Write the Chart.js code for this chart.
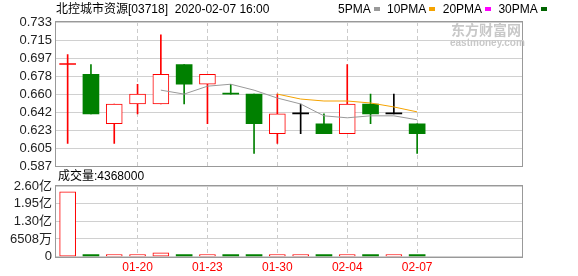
<!DOCTYPE html>
<html>
<head>
<meta charset="utf-8">
<script src="https://cdn.jsdelivr.net/npm/chart.js@4/dist/chart.umd.min.js"></script>
<style>
  body { margin: 0; background: #fff; }
  #wrap { position: relative; width: 578px; height: 276px; overflow: hidden;
          font-family: "Liberation Sans", "Noto Sans CJK SC", sans-serif; font-size: 12px; color: #000; }
  #wrap div.t { position: absolute; white-space: pre; line-height: 14px; }
  .sq { display: inline-block; width: 6px; height: 4px; margin: 0 4px 2px 3px; vertical-align: middle; }
  #priceBox { position: absolute; left: 0; top: 0; width: 578px; height: 178px; }
  #volBox { position: absolute; left: 0; top: 170px; width: 578px; height: 109px; }
</style>
</head>
<body>
<div id="wrap">
  <div id="priceBox"><canvas id="price"></canvas></div>
  <div id="volBox"><canvas id="vol"></canvas></div>
  <div class="t" style="left:56px;top:2px;">北控城市资源[03718]  2020-02-07 16:00</div>
  <div class="t" style="left:338px;top:2px;">5PMA<span class="sq" style="background:#999"></span> 10PMA<span class="sq" style="background:#f5a300"></span> 20PMA<span class="sq" style="background:#ff00ff"></span> 30PMA<span class="sq" style="background:#006400"></span></div>
  <div class="t" style="left:451px;top:23px;color:#c8c8c8;font-weight:bold;font-size:14px;">东方财富网</div>
  <div class="t" style="left:450px;top:36px;color:#c8c8c8;font-weight:bold;font-size:10px;">eastmoney.com</div>
  <div class="t" style="left:58px;top:169px;">成交量:4368000</div>
</div>
<script>
// 16 trading days, 4 empty slots at the right
var dates = ["01-15", "01-16", "01-17", "01-20", "01-21", "01-22", "01-23", "01-24",
             "01-29", "01-30", "01-31", "02-03", "02-04", "02-05", "02-06", "02-07",
             "", "", "", ""];
var openP  = [0.69, 0.68, 0.63, 0.65, 0.65, 0.69, 0.67, 0.66, 0.66, 0.62, 0.64, 0.63, 0.62, 0.65, 0.64, 0.63];
var closeP = [0.69, 0.64, 0.65, 0.66, 0.68, 0.67, 0.68, 0.66, 0.63, 0.64, 0.64, 0.62, 0.65, 0.64, 0.64, 0.62];
var highP  = [0.70, 0.69, 0.65, 0.67, 0.72, 0.69, 0.68, 0.67, 0.66, 0.66, 0.65, 0.64, 0.69, 0.66, 0.66, 0.63];
var lowP   = [0.61, 0.64, 0.61, 0.64, 0.65, 0.65, 0.63, 0.66, 0.60, 0.61, 0.62, 0.62, 0.62, 0.63, 0.64, 0.60];
// up / down / flat, as coloured in the picture
var candleKind = ["up", "down", "up", "up", "up", "down", "up", "down",
                  "down", "up", "flat", "down", "up", "down", "flat", "down"];
var ma5  = [null, null, null, null, 0.664, 0.660, 0.668, 0.670, 0.664, 0.656, 0.650, 0.638, 0.636, 0.638, 0.638, 0.634];
var ma10 = [null, null, null, null, null, null, null, null, null, 0.660, 0.655, 0.653, 0.653, 0.651, 0.647, 0.642];
var volume = [239000000, 3200000, 3500000, 3000000, 14000000, 2500000, 3000000, 2000000,
              2500000, 3500000, 3000000, 2800000, 7000000, 3000000, 3200000, 4368000];
var volUp = [true, false, true, true, true, false, true, false,
             false, true, true, false, true, false, true, false];

var priceTicks = [0.587, 0.60525, 0.6235, 0.64175, 0.66, 0.67825, 0.6965, 0.71475, 0.733];
var priceTickLabels = ["0.587", "0.605", "0.623", "0.642", "0.660", "0.678", "0.697", "0.715", "0.733"];
var volTicks = [0, 65080000, 130160000, 195240000, 260320000];
var volTickLabels = ["0", "6508万", "1.30亿", "1.95亿", "2.60亿"];
var labelIdx = [3, 6, 9, 12, 15];

var RED = "#ff0000", GREEN = "#008000", BLACK = "#000000";
function kindColor(k) { return k == "up" ? RED : (k == "down" ? GREEN : BLACK); }

Chart.defaults.font.family = '"Liberation Sans", "Noto Sans CJK SC", sans-serif';
Chart.defaults.font.size = 12;
Chart.defaults.animation = false;

// draws the grey frame round the plot
var frame = {
  id: "frame",
  afterDraw: function (chart) {
    var a = chart.chartArea, c = chart.ctx;
    c.save();
    c.strokeStyle = "#999";
    c.lineWidth = 1;
    c.strokeRect(Math.round(a.left) - 0.5, Math.round(a.top) - 0.5,
                 Math.round(a.right - a.left) + 1, Math.round(a.bottom - a.top) + 1);
    c.restore();
  }
};

function xGrid(ctx) {
  return labelIdx.indexOf(ctx.index) >= 0 ? "#cccccc" : "rgba(0,0,0,0)";
}

var bodies = [], wicks = [], bodyFill = [], bodyBorder = [], bodyBW = [], wickColor = [];
for (var i = 0; i < openP.length; i++) {
  bodies.push([openP[i], closeP[i]]);
  wicks.push([lowP[i], highP[i]]);
  var col = kindColor(candleKind[i]);
  wickColor.push(col);
  bodyBorder.push(col);
  if (candleKind[i] == "up" && openP[i] != closeP[i]) {
    bodyFill.push("#ffffff");
    bodyBW.push(1);
  } else {
    bodyFill.push(col);
    bodyBW.push(0);
  }
}

new Chart(document.getElementById("price"), {
  type: "bar",
  data: {
    labels: dates,
    datasets: [
      { type: "line", label: "5PMA", data: ma5, borderColor: "#999999", borderWidth: 1,
        pointRadius: 0, tension: 0, order: -1 },
      { type: "line", label: "10PMA", data: ma10, borderColor: "#f5a300", borderWidth: 1,
        pointRadius: 0, tension: 0, order: -1 },
      { label: "body", data: bodies, backgroundColor: bodyFill, borderColor: bodyBorder,
        borderWidth: bodyBW, borderSkipped: false, barThickness: 16, minBarLength: 1,
        grouped: false, order: 0 },
      { label: "wick", data: wicks, backgroundColor: wickColor, borderWidth: 0,
        barThickness: 1, grouped: false, order: 1 }
    ]
  },
  options: {
    responsive: true,
    maintainAspectRatio: false,
    layout: { padding: { left: 0, right: 56, top: 22, bottom: 5 } },
    plugins: { legend: { display: false }, tooltip: { enabled: false } },
    scales: {
      x: {
        offset: true,
        ticks: { display: false, autoSkip: false },
        grid: { offset: false, drawTicks: false, color: xGrid },
        border: { display: false, dash: [4, 3] }
      },
      y: {
        min: 0.587, max: 0.733,
        afterFit: function (s) { s.width = 56; },
        afterBuildTicks: function (s) { s.ticks = priceTicks.map(function (v) { return { value: v }; }); },
        ticks: { color: "#222", padding: 4, font: { size: 13 }, autoSkip: false,
                 callback: function (v, i) { return priceTickLabels[i]; } },
        grid: { color: "#d0d0d0", drawTicks: false },
        border: { display: false }
      }
    }
  },
  plugins: [frame]
});

var volFill = [], volBorder = [], volBW = [];
for (var j = 0; j < volume.length; j++) {
  volFill.push(volUp[j] ? "#ffffff" : GREEN);
  volBorder.push(volUp[j] ? RED : GREEN);
  volBW.push(volUp[j] ? 1 : 0);
}

new Chart(document.getElementById("vol"), {
  type: "bar",
  data: {
    labels: dates,
    datasets: [
      { label: "成交量", data: volume, backgroundColor: volFill, borderColor: volBorder,
        borderWidth: volBW, borderSkipped: false, barThickness: 16, minBarLength: 2 }
    ]
  },
  options: {
    responsive: true,
    maintainAspectRatio: false,
    layout: { padding: { left: 0, right: 56, top: 16, bottom: 0 } },
    plugins: { legend: { display: false }, tooltip: { enabled: false } },
    scales: {
      x: {
        offset: true,
        ticks: { autoSkip: false, maxRotation: 0, color: RED, padding: 4,
                 callback: function (v, i) { return labelIdx.indexOf(i) >= 0 ? dates[i] : ""; } },
        grid: { offset: false, drawTicks: false, color: xGrid },
        border: { display: false, dash: [4, 3] }
      },
      y: {
        min: 0, max: 260320000,
        afterFit: function (s) { s.width = 56; },
        afterBuildTicks: function (s) { s.ticks = volTicks.map(function (v) { return { value: v }; }); },
        ticks: { color: "#222", padding: 4, font: { size: 13 }, autoSkip: false,
                 callback: function (v, i) { return volTickLabels[i]; } },
        grid: { color: "#d0d0d0", drawTicks: false },
        border: { display: false }
      }
    }
  },
  plugins: [frame]
});
</script>
</body>
</html>
